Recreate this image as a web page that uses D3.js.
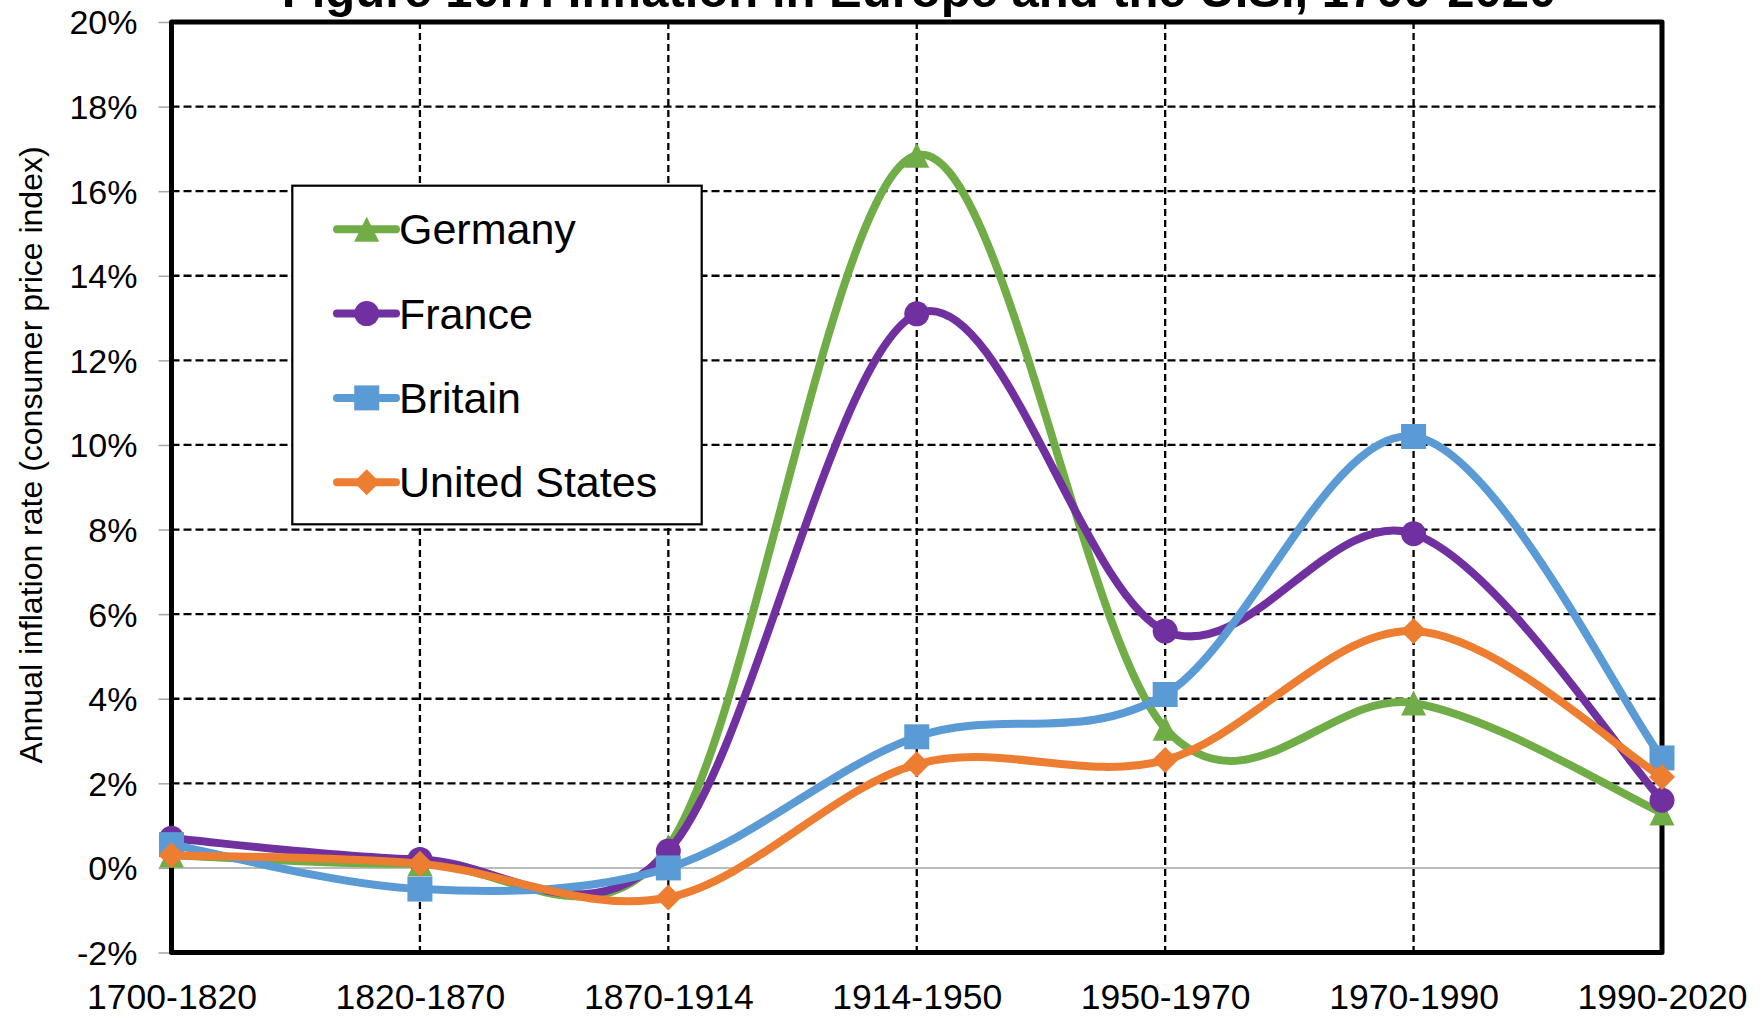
<!DOCTYPE html>
<html>
<head>
<meta charset="utf-8">
<script src="https://cdn.jsdelivr.net/npm/d3@7"></script>
<style>
  html, body { margin: 0; padding: 0; background: #ffffff; }
  svg { display: block; }
  text { font-family: Arial, "Liberation Sans", sans-serif; fill: #000; }
</style>
</head>
<body>
<script>
// ---- Data ----
const categories = ["1700-1820", "1820-1870", "1870-1914", "1914-1950", "1950-1970", "1970-1990", "1990-2020"];
const germany      = [0.3, 0.1, 0.5, 16.85, 3.3, 3.9, 1.3];
const france       = [0.7, 0.2, 0.4, 13.1, 5.6, 7.9, 1.6];
const britain      = [0.55, -0.5, 0.0, 3.1, 4.1, 10.2, 2.6];
const unitedStates = [0.3, 0.1, -0.7, 2.45, 2.55, 5.6, 2.15];
const seriesNames = ["Germany", "France", "Britain", "United States"];
const yTicks = [-2, 0, 2, 4, 6, 8, 10, 12, 14, 16, 18, 20];
const titleText = "Figure 10.7. Inflation in Europe and the U.S., 1700-2020";
const yAxisTitle = "Annual inflation rate (consumer price index)";

const series = [
  { name: seriesNames[0], values: germany,      color: "#70AD47", marker: "triangle" },
  { name: seriesNames[1], values: france,       color: "#7030A0", marker: "circle" },
  { name: seriesNames[2], values: britain,      color: "#5B9BD5", marker: "square" },
  { name: seriesNames[3], values: unitedStates, color: "#ED7D31", marker: "diamond" }
];

// ---- Layout ----
const W = 1763, H = 1018;
const plot = { left: 171.5, right: 1662, top: 22, bottom: 952.5 };

const svg = d3.select("body").append("svg").attr("width", W).attr("height", H);

const x = d3.scalePoint().domain(categories).range([plot.left, plot.right]);
const y = d3.scaleLinear().domain([-2, 20]).range([plot.bottom, plot.top]);

// Title (partially clipped at top as in the reference)
svg.append("text")
  .attr("x", 919).attr("y", 7)
  .attr("text-anchor", "middle")
  .style("font-size", "49px").style("font-weight", "bold")
  .text(titleText);

// Horizontal gridlines (dashed), except 0 which is the grey axis line
const g = svg.append("g");
g.selectAll("line.hgrid")
  .data(yTicks.filter(d => d !== 0 && d !== -2 && d !== 20))
  .join("line").attr("class", "hgrid")
  .attr("x1", plot.left).attr("x2", plot.right)
  .attr("y1", d => y(d)).attr("y2", d => y(d))
  .attr("stroke", "#000").attr("stroke-width", 2.3).attr("stroke-dasharray", "8,4");

// Vertical gridlines (dashed) at interior categories
g.selectAll("line.vgrid")
  .data(categories.slice(1, -1))
  .join("line").attr("class", "vgrid")
  .attr("x1", d => x(d)).attr("x2", d => x(d))
  .attr("y1", plot.top).attr("y2", plot.bottom)
  .attr("stroke", "#000").attr("stroke-width", 2.3).attr("stroke-dasharray", "7,4");

// Zero line (grey)
g.append("line")
  .attr("x1", plot.left).attr("x2", plot.right)
  .attr("y1", y(0)).attr("y2", y(0))
  .attr("stroke", "#a6a6a6").attr("stroke-width", 1.5);
g.append("line")
  .attr("x1", plot.right).attr("x2", plot.right)
  .attr("y1", y(0)).attr("y2", y(0) + 11)
  .attr("stroke", "#a6a6a6").attr("stroke-width", 1.5);

// Y axis with grey ticks, labels
const yAxis = d3.axisLeft(y).tickValues(yTicks).tickSize(11).tickPadding(21)
  .tickFormat(d => d + "%");
const ya = svg.append("g").attr("transform", `translate(${plot.left - 2},0)`).call(yAxis);
ya.select(".domain").remove();
ya.selectAll(".tick line").attr("stroke", "#a6a6a6").attr("stroke-width", 1.5);
ya.selectAll(".tick text")
  .style("font-size", "34px").style("font-family", "Arial, 'Liberation Sans', sans-serif")
  .attr("fill", "#000").attr("dy", "0.35em");

// X axis labels
const xAxis = d3.axisBottom(x).tickSize(0).tickPadding(0);
const xa = svg.append("g").attr("transform", `translate(0,${plot.bottom})`).call(xAxis);
xa.select(".domain").remove();
xa.selectAll(".tick text")
  .style("font-size", "35.5px").style("font-family", "Arial, 'Liberation Sans', sans-serif")
  .attr("fill", "#000").attr("y", 56).attr("dy", 0);

// Plot frame
svg.append("rect")
  .attr("x", plot.left).attr("y", plot.top)
  .attr("width", plot.right - plot.left).attr("height", plot.bottom - plot.top)
  .attr("fill", "none").attr("stroke", "#000").attr("stroke-width", 5)
  .attr("stroke-linejoin", "round");

// Y axis title
svg.append("text")
  .attr("transform", `translate(31,455) rotate(-90)`)
  .attr("text-anchor", "middle").attr("dominant-baseline", "central")
  .style("font-size", "32px")
  .text(yAxisTitle);

// Marker shapes
const S = 12.5;
function markerPath(type) {
  switch (type) {
    case "triangle": return `M0,${-S} L${S},${S} L${-S},${S} Z`;
    case "square": return `M${-S},${-S} H${S} V${S} H${-S} Z`;
    case "diamond": return `M0,${-S - 0.5} L${S + 0.5},0 L0,${S + 0.5} L${-S - 0.5},0 Z`;
    default: return null;
  }
}
function drawMarker(sel, type, color) {
  if (type === "circle") {
    sel.append("circle").attr("r", S).attr("fill", color);
  } else {
    sel.append("path").attr("d", markerPath(type)).attr("fill", color);
  }
}

// Spreadsheet-style smoothed curve (Bezier with limited control-point distance)
function CurveSmoothSheet(context) { this._context = context; }
CurveSmoothSheet.prototype = {
  areaStart() { this._line = 0; },
  areaEnd() { this._line = NaN; },
  lineStart() { this._pts = []; },
  point(px, py) { this._pts.push([+px, +py]); },
  lineEnd() {
    const p = this._pts, c = this._context;
    if (!p.length) return;
    const dist = (a, b) => Math.hypot(a[0] - b[0], a[1] - b[1]);
    c.moveTo(p[0][0], p[0][1]);
    for (let i = 0; i < p.length - 1; i++) {
      const p0 = p[Math.max(0, i - 1)], p1 = p[i], p2 = p[i + 1], p3 = p[Math.min(p.length - 1, i + 2)];
      const d12 = dist(p1, p2), d02 = dist(p0, p2), d13 = dist(p1, p3);
      let f1 = 1 / 6, f2 = 1 / 6;
      if (d02 > 0 && d02 / 6 >= d12 / 2) f1 = d12 / (2 * d02);
      if (d13 > 0 && d13 / 6 >= d12 / 2) f2 = d12 / (2 * d13);
      c.bezierCurveTo(
        p1[0] + (p2[0] - p0[0]) * f1, p1[1] + (p2[1] - p0[1]) * f1,
        p2[0] - (p3[0] - p1[0]) * f2, p2[1] - (p3[1] - p1[1]) * f2,
        p2[0], p2[1]);
    }
  }
};
const curveSmoothSheet = ctx => new CurveSmoothSheet(ctx);

const line = d3.line()
  .x((d, i) => x(categories[i]))
  .y(d => y(d))
  .curve(curveSmoothSheet);

series.forEach(s => {
  const sg = svg.append("g");
  sg.append("path")
    .attr("d", line(s.values))
    .attr("fill", "none").attr("stroke", s.color)
    .attr("stroke-width", 8).attr("stroke-linejoin", "round").attr("stroke-linecap", "round");
  s.values.forEach((v, i) => {
    const m = sg.append("g").attr("transform", `translate(${x(categories[i])},${y(v)})`);
    drawMarker(m, s.marker, s.color);
  });
});

// Legend
const lg = svg.append("g");
lg.append("rect")
  .attr("x", 292.3).attr("y", 185.7).attr("width", 409.4).attr("height", 338.6)
  .attr("fill", "#fff").attr("stroke", "#000").attr("stroke-width", 2.2);
series.forEach((s, i) => {
  const cy = 229.3 + i * 84.3;
  const row = lg.append("g");
  row.append("line")
    .attr("x1", 337).attr("x2", 396).attr("y1", cy).attr("y2", cy)
    .attr("stroke", s.color).attr("stroke-width", 8).attr("stroke-linecap", "round");
  const m = row.append("g").attr("transform", `translate(366.7,${cy})`);
  drawMarker(m, s.marker, s.color);
  row.append("text")
    .attr("x", 399).attr("y", cy + 15)
    .style("font-size", "43px")
    .text(s.name);
});
</script>
</body>
</html>
